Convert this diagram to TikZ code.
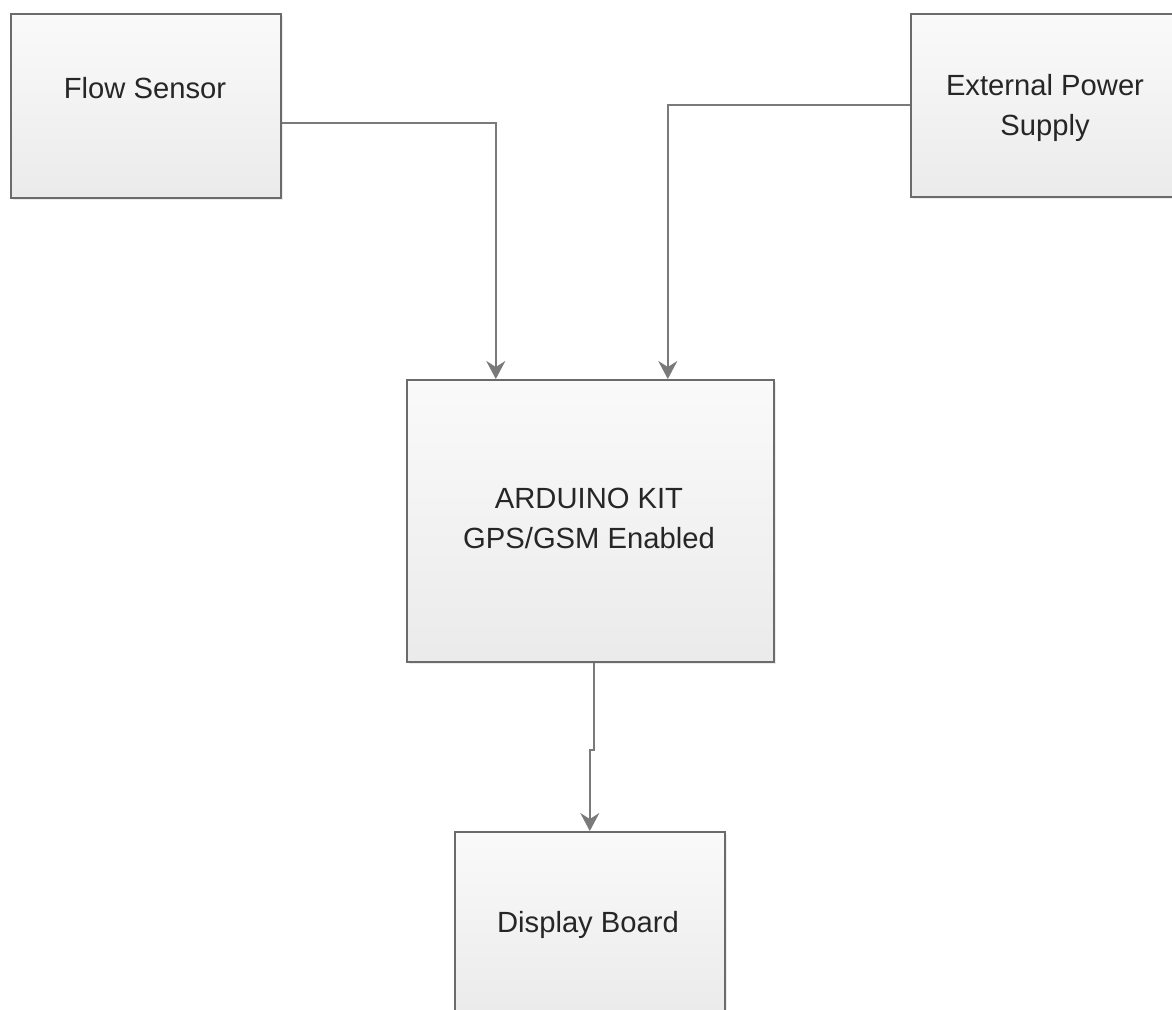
\documentclass[tikz,border=0pt]{standalone}
\usepackage{fontspec}
\setmainfont{Liberation Sans}
\usetikzlibrary{arrows.meta,shadows}
\begin{document}
\begin{tikzpicture}[x=0.5pt,y=-0.5pt,
  blk/.style={draw=black!58, line width=0.8pt, top color=white!98!black, bottom color=white!92!black,
    inner sep=0pt, anchor=north west,
    drop shadow={shadow xshift=1.3pt,shadow yshift=-1.3pt,fill=black!14}},
  lbl/.style={font=\fontsize{14.6}{20}\selectfont, text=black!85, align=center, inner sep=0pt},
  conn/.style={draw=black!52, line width=1pt, -{Stealth[length=9pt,width=9.5pt,inset=3pt]}}]
\useasboundingbox (0,0) rectangle (1172,1009);
\clip (0,0) rectangle (1172,1009);
\fill[white] (0,0) rectangle (1172,1009);
\node[blk, minimum width=135pt, minimum height=92pt] (flow) at (10,13) {};
\node[blk, minimum width=135pt, minimum height=91.5pt] (ext) at (910,13) {};
\node[blk, minimum width=183.5pt, minimum height=141pt] (ard) at (406,379) {};
\node[blk, minimum width=135pt, minimum height=92pt] (disp) at (454,831) {};
\node[lbl] (flowtxt) at (145,88) {Flow Sensor};
\node[lbl] (exttxt) at (1045,108) {External Power\\Supply};
\node[lbl] (ardtxt) at (589,518) {ARDUINO KIT\\GPS/GSM Enabled};
\node[lbl] (disptxt) at (588,925) {Display Board};
\draw[conn] ([yshift=-8.5pt]flow.east) -| ([xshift=-47.25pt]ard.north);
\draw[conn] (ext.west) -| ([xshift=38.75pt]ard.north);
\draw[conn] ([xshift=1.75pt]ard.south) -- ++(0,87) -| (disp.north);
\end{tikzpicture}
\end{document}
